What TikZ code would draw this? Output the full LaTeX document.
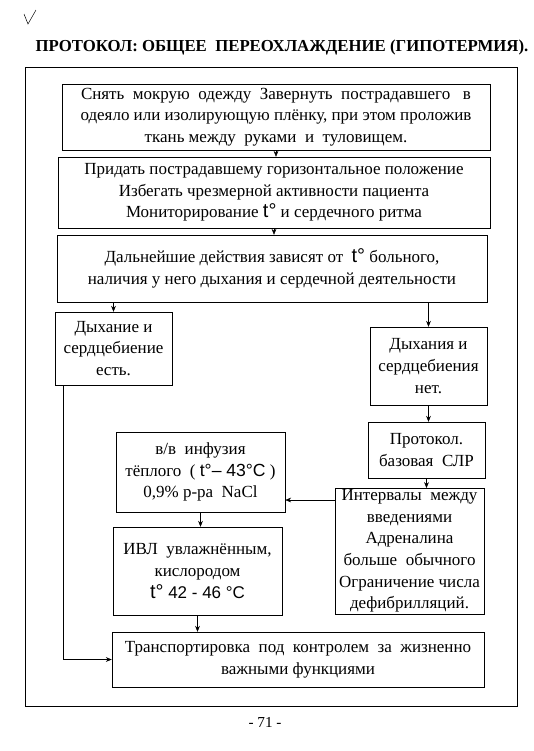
\documentclass[tikz,border=0pt]{standalone}
\usepackage{fontspec}
\setmainfont{Liberation Serif}
\newfontfamily\degfont{Liberation Sans}
\usetikzlibrary{arrows.meta}
\newcommand{\tdeg}{{\degfont\fontsize{17}{17}\selectfont t°}}
\begin{document}
\begin{tikzpicture}[x=0.03cm,y=-0.03cm,
    box/.style={draw,align=center,inner sep=1pt,font=\fontsize{14.5}{18.5}\selectfont},
    arr/.style={-{Stealth[length=5pt,width=4pt]}}]
  \useasboundingbox (0,0) rectangle (534,751);
  % check mark and title
  \draw[thin] (24,14) -- (28,24) -- (36,10);
  \node[font=\bfseries\fontsize{14.3}{14.3}\selectfont] (title) at (282,47)
    {ПРОТОКОЛ: ОБЩЕЕ \ ПЕРЕОХЛАЖДЕНИЕ (ГИПОТЕРМИЯ).};
  % outer frame
  \draw (25,67) rectangle (517,706);
  % boxes
  \node[box,minimum width=12.84cm,minimum height=1.98cm] (undress) at (276,117)
    {Снять \ мокрую \ одежду \ Завернуть \ пострадавшего \ \ в\\
     одеяло или изолирующую плёнку, при этом проложив\\
     ткань между \ руками \ и \ туловищем.};
  \node[box,minimum width=12.96cm,minimum height=2.13cm] (lay) at (274,192.5)
    {Придать пострадавшему горизонтальное положение\\
     Избегать чрезмерной активности пациента\\
     Мониторирование \tdeg\ и сердечного ритма};
  \node[box,minimum width=12.9cm,minimum height=2.01cm] (depend) at (272,268.5)
    {Дальнейшие действия зависят от \ \tdeg\ больного,\\
     наличия у него дыхания и сердечной деятельности};
  \node[box,minimum width=3.51cm,minimum height=2.19cm] (yes) at (113.5,348.5)
    {Дыхание и\\ сердцебиение\\ есть.};
  \node[box,minimum width=3.51cm,minimum height=2.34cm] (no) at (428.5,366)
    {Дыхания и\\ сердцебиения\\ нет.};
  \node[box,minimum width=3.51cm,minimum height=1.68cm] (cpr) at (426.5,450)
    {Протокол.\\ базовая \ СЛР};
  \node[box,minimum width=4.47cm,minimum height=3.54cm] (interv) at (409.5,551)
    {Интервалы \ между\\ введениями\\ Адреналина\\ больше \ обычного\\
     Ограничение числа\\ дефибрилляций.};
  \node[box,minimum width=5.07cm,minimum height=2.4cm] (infus) at (200.5,472)
    {в/в \ инфузия\\
     тёплого \ ( {\degfont\fontsize{15}{15}\selectfont t°– 43°C} )\\
     0,9\% р-ра \ NaCl};
  \node[box,minimum width=5.07cm,minimum height=2.64cm] (ventil) at (197.5,571)
    {ИВЛ \ увлажнённым,\\ кислородом\\
     \tdeg{\degfont\fontsize{14.5}{14.5}\selectfont\ 42 - 46 °C}};
  \node[box,minimum width=11.16cm,minimum height=1.65cm] (transp) at (298,659.5)
    {Транспортировка \ под \ контролем \ за \ жизненно\\ важными функциями};
  % connectors
  \draw[arr] (undress.south) -- (undress.south |- lay.north);
  \draw[arr] (lay.south) -- (lay.south |- depend.north);
  \draw[arr] (yes.north |- depend.south) -- (yes.north);
  \draw[arr] (no.north |- depend.south) -- (no.north);
  \draw[arr] (no.south) -- (no.south |- cpr.north);
  \draw[arr] (cpr.south) -- (cpr.south |- interv.north);
  \coordinate (lvl) at (0,500);
  \draw[arr] (interv.west |- lvl) -- (infus.east |- lvl);
  \draw[arr] (infus.south) -- (infus.south |- ventil.north);
  \draw[arr] (ventil.south) -- (ventil.south |- transp.north);
  \coordinate (bend) at (63,0);
  \draw[arr] (bend |- yes.south) -- (bend |- transp.west) -- (transp.west);
  % page number
  \node[font=\fontsize{13}{13}\selectfont] (page) at (265,722) {- 71 -};
\end{tikzpicture}
\end{document}
